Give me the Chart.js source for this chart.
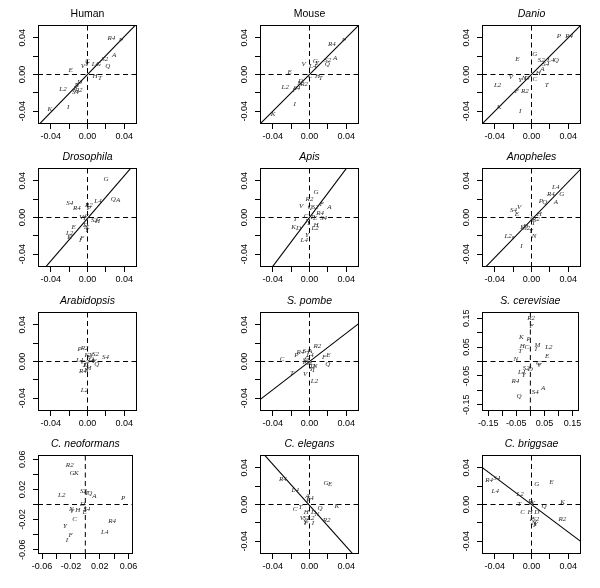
<!DOCTYPE html>
<html><head><meta charset="utf-8">
<script src="https://cdn.jsdelivr.net/npm/chart.js@4/dist/chart.umd.min.js"></script>
<style>
html,body{margin:0;padding:0;background:#fff;}
#wrap{position:relative;width:600px;height:588px;overflow:hidden;background:#fff;}
canvas{position:absolute;}
</style></head>
<body><div id="wrap"></div>
<script>
// ---------- titles ----------
const panelTitles = ["Human","Mouse","Danio","Drosophila","Apis","Anopheles","Arabidopsis","S. pombe","S. cerevisiae","C. neoformans","C. elegans","C. briggsae"];
const titleItalic = [false,false,true,true,true,true,true,true,true,true,true,true];

// ---------- axis ticks ----------
const stdTicks = [-0.04,-0.02,0,0.02,0.04];
const stdTickLabels = ["-0.04","","0.00","","0.04"];
const cerTicks = [-0.15,-0.10,-0.05,0,0.05,0.10,0.15];
const cerTickLabels = ["-0.15","","-0.05","","0.05","","0.15"];
const neoTicks = [-0.06,-0.04,-0.02,0,0.02,0.04,0.06];
const neoTickLabels = ["-0.06","","-0.02","","0.02","","0.06"];
const axisLimit = [0.054,0.054,0.054,0.054,0.054,0.054,0.054,0.054,0.172,0.0656,0.054,0.054];

// ---------- fitted lines (slope, intercept); null = no line ----------
const lineSlope     = [1.03, 1.00, 1.00, 1.16, 1.33, 1.03, null, 0.77, null, null, -1.12, -0.75];
const lineIntercept = [0.000, 0.000, 0.000, -0.001, 0.000, -0.0025, null, 0.000, null, null, -0.001, 0.000];

// ---------- data ----------
const humanLab = ["A","C","D","E","F","G","H","I","K","L2","L4","N","P","Q","R2","R4","S2","S4","T","V","Y"];
const humanX = [0.029,0.000,-0.0086,-0.0184,-0.013,0.012,0.0083,-0.021,-0.041,-0.0267,0.0086,-0.0115,0.0364,0.022,-0.0097,0.026,0.0187,-0.013,0.0137,-0.005,-0.0007];
const humanY = [0.021,0.0145,-0.0083,0.005,-0.0145,0.011,-0.002,-0.036,-0.038,-0.0156,0.0116,-0.012,0.037,0.0094,-0.0166,0.040,0.017,-0.019,-0.0036,0.009,0.0116];

const mouseLab = ["A","C","D","E","F","G","H","I","K","L2","L4","N","P","Q","R2","R4","S2","S4","T","V","Y"];
const mouseX = [0.0279,0.0007,-0.0094,-0.0217,-0.0163,0.0062,0.0087,-0.0163,-0.0398,-0.0264,0.0036,-0.0109,0.0376,0.0195,-0.0058,0.0243,0.0199,-0.0138,0.0123,-0.0065,0.008];
const mouseY = [0.018,-0.0022,-0.0076,0.0025,-0.0175,0.0145,-0.0022,-0.032,-0.043,-0.0138,0.0087,-0.0095,0.0378,0.0116,-0.0102,0.0327,0.016,-0.0146,-0.0036,0.0116,0.0124];

const danioLab = ["A","C","D","E","F","G","H","I","K","L2","L4","N","P","Q","R2","R4","S2","S4","T","V","Y"];
const danioX = [0.012,0.0036,-0.0051,-0.0153,-0.016,0.0036,0.0073,-0.0124,-0.0353,-0.037,0.021,-0.008,0.0298,0.027,-0.0073,0.0411,0.0105,0.0156,0.0167,-0.0225,-0.0124];
const danioY = [0.0062,-0.0055,-0.0036,0.0164,-0.018,0.0218,0.0015,-0.040,-0.0356,-0.012,0.016,-0.0036,0.0415,0.016,-0.018,0.0415,0.016,0.0109,-0.012,-0.003,-0.0066];

const drosLab = ["A","C","D","E","F","G","H","I","K","L2","L4","N","P","Q","R2","R4","S2","S4","T","V","Y"];
const drosX = [0.0335,-0.0007,-0.0022,-0.015,-0.0058,0.0202,0.011,-0.0079,-0.0195,-0.0195,0.0115,-0.0014,0.0014,0.0281,0.0014,-0.0115,0.0076,-0.0195,-0.0032,-0.0068,-0.0007];
const drosY = [0.019,0.0018,-0.008,-0.0102,-0.0226,0.042,-0.0044,-0.0248,-0.021,-0.0175,0.0175,-0.011,0.0102,0.0201,0.0139,0.0102,-0.003,0.0153,-0.0007,0.0,-0.0139];

const apisLab = ["A","C","D","E","F","G","H","I","K","L2","L4","N","P","Q","R2","R4","S2","S4","T","V","Y"];
const apisX = [0.0217,-0.0036,-0.012,0.0062,0.0134,0.0072,0.0072,-0.0011,-0.0173,0.0061,-0.0058,-0.0022,0.0036,0.0007,0.0,0.0116,0.0062,0.0152,-0.0155,-0.009,-0.0029];
const apisY = [0.011,0.0018,-0.012,-0.0007,0.0146,0.0274,-0.008,-0.0066,-0.0102,-0.012,-0.0248,-0.0036,0.0,0.0117,0.0201,0.0044,0.0117,-0.0011,-0.0018,0.0128,-0.019];

const anophLab = ["A","C","D","E","F","G","H","I","K","L2","L4","N","P","Q","R2","R4","S2","S4","T","V","Y"];
const anophX = [0.0265,0.0011,-0.0062,-0.016,-0.0196,0.0331,0.0084,-0.0109,-0.0098,-0.0255,0.0265,0.0029,0.0102,0.0146,0.0047,0.0211,-0.0051,-0.0196,0.0022,-0.0135,-0.0007];
const anophY = [0.0164,-0.0007,-0.0091,0.0037,-0.022,0.0256,0.0037,-0.031,-0.0102,-0.020,0.0336,-0.020,0.0183,0.0172,-0.0018,0.0256,-0.0117,0.0084,-0.0066,0.011,-0.0153];

const arabLab = ["A","C","D","E","F","G","H","I","K","L2","L4","N","P","Q","R2","R4","S2","S4","T","V","Y"];
const arabX = [0.0058,-0.0007,-0.0022,0.0014,0.0076,0.004,0.0014,-0.0032,-0.0007,-0.0032,-0.0086,-0.0014,-0.0086,0.0101,-0.0032,-0.005,0.0086,0.0195,0.0004,-0.0058,0.004];
const arabY = [0.0011,-0.0025,-0.0044,0.0047,0.0,0.0029,-0.0073,-0.0044,0.0066,-0.0316,0.0011,-0.0098,0.0131,-0.0025,0.0146,-0.011,0.0084,0.0047,-0.0007,-0.0007,0.0066];

const pombeLab = ["A","C","D","E","F","G","H","I","K","L2","L4","N","P","Q","R2","R4","S2","S4","T","V","Y"];
const pombeX = [0.0007,-0.030,0.0036,0.0206,0.016,-0.0022,0.0,0.0043,-0.0047,0.0054,0.0007,0.0062,-0.0144,0.020,0.0087,-0.010,-0.0036,-0.0036,-0.0192,-0.0047,0.0018];
const pombeY = [0.0116,0.0029,-0.0055,0.0073,0.0044,0.0036,-0.0018,-0.0091,-0.0007,-0.0218,0.0066,-0.0055,0.0073,-0.0029,0.0164,0.0102,0.0018,0.0109,-0.0127,-0.0138,-0.008];

const cerevLab = ["A","C","D","E","F","G","H","I","K","L2","L4","M","N","P","Q","R2","R4","S2","S4","T","V","Y"];
const cerevX = [0.045,-0.013,0.0,0.060,0.0046,0.029,-0.029,0.020,-0.032,0.066,-0.031,0.025,-0.052,-0.006,-0.040,0.0023,-0.053,-0.015,0.017,-0.036,0.031,-0.024];
const cerevY = [-0.091,0.050,-0.026,0.0176,0.123,-0.006,0.053,0.044,0.084,0.050,-0.0375,0.056,0.0094,0.076,-0.120,0.150,-0.068,-0.023,-0.108,0.035,-0.012,-0.049];

const neoLab = ["A","C","D","E","F","G","H","I","K","L2","L4","N","P","Q","R2","R4","S2","S4","T","V","Y"];
const neoX = [0.0124,-0.015,-0.004,-0.0009,-0.0203,-0.0185,-0.0106,-0.0256,-0.0124,-0.0327,0.027,-0.0194,0.0525,0.0062,-0.0216,0.037,-0.0026,0.0018,0.0018,-0.0185,-0.0283];
const neoY = [0.011,-0.0191,0.0009,-0.0098,-0.041,0.041,-0.008,-0.0476,0.041,0.0124,-0.0364,-0.0067,0.008,0.0147,0.052,-0.022,0.0178,-0.0067,0.0147,-0.0089,-0.029];

const elegLab = ["A","C","D","E","F","G","H","I","K","L2","L4","N","P","Q","R2","R4","S2","S4","T","V","Y"];
const elegX = [-0.0022,-0.0156,0.0043,0.0224,-0.0036,0.018,-0.0036,0.0036,0.0297,0.0014,-0.0156,0.008,-0.0011,0.0116,0.0188,-0.029,-0.0029,0.0007,-0.010,-0.0083,-0.0047];
const elegY = [0.0095,-0.0051,-0.0087,0.0226,-0.020,0.0237,-0.0087,-0.0207,-0.0018,-0.0146,0.0156,-0.011,0.0047,-0.0044,-0.0171,0.0276,-0.0153,0.0066,-0.0025,-0.0146,-0.019];

const brigLab = ["A","C","D","E","F","G","H","I","K","L2","L4","N","P","Q","R2","R4","S2","S4","T","V","Y"];
const brigX = [0.0,-0.0098,0.0058,0.0218,0.0004,0.0058,-0.0015,0.0029,0.0338,-0.0124,-0.0396,0.0029,-0.0015,0.0138,0.0338,-0.0462,0.0047,-0.0378,-0.0135,0.0011,0.0047];
const brigY = [0.0029,-0.008,-0.008,0.024,-0.016,0.0218,-0.008,-0.0226,0.0022,0.0109,0.0149,-0.0207,0.0036,-0.0018,-0.016,0.0265,-0.016,0.0284,0.0,0.0011,-0.0218];

const panelLabs = [humanLab,mouseLab,danioLab,drosLab,apisLab,anophLab,arabLab,pombeLab,cerevLab,neoLab,elegLab,brigLab];
const panelXs = [humanX,mouseX,danioX,drosX,apisX,anophX,arabX,pombeX,cerevX,neoX,elegX,brigX];
const panelYs = [humanY,mouseY,danioY,drosY,apisY,anophY,arabY,pombeY,cerevY,neoY,elegY,brigY];

// ---------- layout ----------
const colLeft = [0, 222, 444];
const rowTop = [0, 143, 287, 430];
const CW = 140, CH = 143, AXW = 38, AXH = 19, PADTOP = 25, PADRIGHT = 3;

const labelPlugin = {
  id: 'textMarks',
  afterDatasetsDraw(chart) {
    const ctx = chart.ctx, a = chart.chartArea;
    ctx.save();
    ctx.beginPath(); ctx.rect(a.left, a.top, a.right - a.left, a.bottom - a.top); ctx.clip();
    ctx.font = 'italic 7px "Liberation Serif", "DejaVu Serif", serif';
    ctx.fillStyle = '#2a2a2a';
    ctx.textAlign = 'center'; ctx.textBaseline = 'middle';
    chart.data.datasets.forEach((ds, di) => {
      if (!ds.labelText) return;
      const meta = chart.getDatasetMeta(di);
      const xs = chart.scales[meta.xAxisID], ys = chart.scales[meta.yAxisID];
      ds.data.forEach((p, j) => {
        ctx.fillText(ds.labelText[j], xs.getPixelForValue(p.x), ys.getPixelForValue(p.y));
      });
    });
    ctx.restore();
  },
  afterDraw(chart) {
    const ctx = chart.ctx, a = chart.chartArea, o = chart.options.plugins.textMarks;
    ctx.save();
    ctx.strokeStyle = '#000'; ctx.lineWidth = 1;
    ctx.strokeRect(Math.round(a.left) + 0.5, Math.round(a.top) + 0.5, Math.round(a.right - a.left) - 1, Math.round(a.bottom - a.top) - 1);
    ctx.fillStyle = '#000';
    ctx.font = (o.italic ? 'italic ' : '') + '10.5px "Liberation Sans", Arial, sans-serif';
    ctx.textAlign = 'center'; ctx.textBaseline = 'middle';
    ctx.fillText(o.title, (a.left + a.right) / 2, a.top - 10.7);
    ctx.restore();
  }
};

function axisCfg(lim, ticks, labs, isY) {
  return {
    type: 'linear', min: -lim, max: lim,
    afterBuildTicks: s => { s.ticks = ticks.map(v => ({ value: v })); },
    afterFit: s => { if (isY) s.width = AXW; else s.height = AXH; },
    ticks: {
      autoSkip: false,
      minRotation: isY ? 90 : 0, maxRotation: isY ? 90 : 0,
      crossAlign: isY ? 'center' : 'near',
      padding: isY ? 0 : 2.5,
      color: '#000',
      font: { size: 9, family: '"Liberation Sans", Arial, sans-serif' },
      callback: (v) => { const k = ticks.findIndex(t => Math.abs(t - v) < 1e-9); return k >= 0 ? labs[k] : ''; }
    },
    grid: { drawOnChartArea: false, drawTicks: true, tickLength: 5, color: '#000', tickColor: '#000', lineWidth: 1 },
    border: { display: false }
  };
}

const wrap = document.getElementById('wrap');
for (let i = 0; i < 12; i++) {
  const cv = document.createElement('canvas');
  cv.width = CW; cv.height = CH;
  cv.style.width = CW + 'px'; cv.style.height = CH + 'px';
  cv.style.left = colLeft[i % 3] + 'px';
  cv.style.top = rowTop[Math.floor(i / 3)] + 'px';
  wrap.appendChild(cv);

  const lim = axisLimit[i];
  let ticks = stdTicks, labs = stdTickLabels;
  if (i === 8) { ticks = cerTicks; labs = cerTickLabels; }
  if (i === 9) { ticks = neoTicks; labs = neoTickLabels; }

  const pts = panelXs[i].map((x, j) => ({ x: x, y: panelYs[i][j] }));
  const datasets = [
    { type: 'line', data: [{ x: -lim, y: 0 }, { x: lim, y: 0 }], borderColor: '#000', borderWidth: 1, borderDash: [5, 3.5], pointRadius: 0, fill: false },
    { type: 'line', data: [{ x: 0, y: -lim }, { x: 0, y: lim }], borderColor: '#000', borderWidth: 1, borderDash: [5, 3.5], pointRadius: 0, fill: false },
    { type: 'scatter', data: pts, labelText: panelLabs[i], pointRadius: 0, pointHoverRadius: 0 }
  ];
  if (lineSlope[i] !== null) {
    const s = lineSlope[i], b = lineIntercept[i];
    datasets.push({ type: 'line', data: [{ x: -lim, y: b - s * lim }, { x: lim, y: b + s * lim }], borderColor: '#000', borderWidth: 1.1, pointRadius: 0, fill: false });
  }

  new Chart(cv, {
    data: { datasets },
    options: {
      responsive: false, animation: false, devicePixelRatio: 1,
      layout: { padding: { top: PADTOP, right: PADRIGHT, left: 0, bottom: 0 } },
      plugins: { legend: { display: false }, tooltip: { enabled: false }, title: { display: false },
                 textMarks: { title: panelTitles[i], italic: titleItalic[i] } },
      scales: { x: axisCfg(lim, ticks, labs, false), y: axisCfg(lim, ticks, labs, true) }
    },
    plugins: [labelPlugin]
  });
}
</script>
</body></html>
